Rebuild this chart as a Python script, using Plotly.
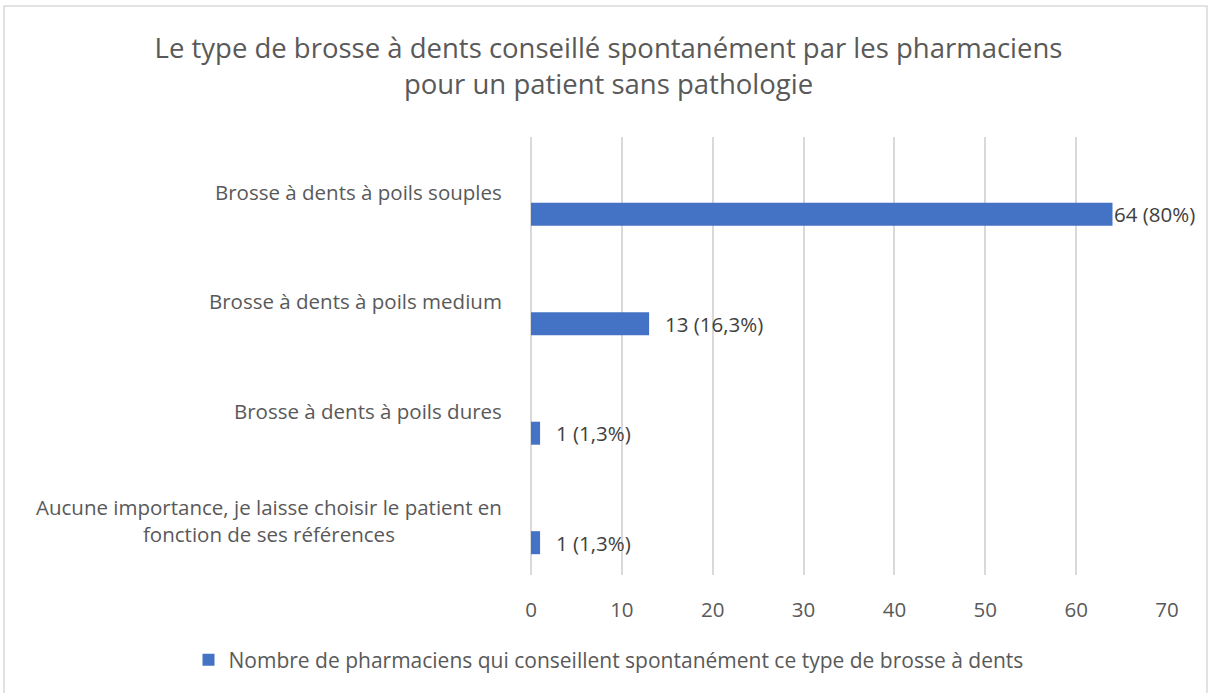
import plotly.graph_objects as go

categories = [
    "Brosse à dents à poils souples",
    "Brosse à dents à poils medium",
    "Brosse à dents à poils dures",
    "Aucune importance, je laisse choisir le patient en<br>fonction de ses références",
]
values = [64, 13, 1, 1]
labels = ["64 (80%)", "13 (16,3%)", "1 (1,3%)", "1 (1,3%)"]
series_name = "Nombre de pharmaciens qui conseillent spontanément ce type de brosse à dents"
title_text = "Le type de brosse à dents conseillé spontanément par les pharmaciens<br>pour un patient sans pathologie"
x_ticks = [0, 10, 20, 30, 40, 50, 60, 70]

FONT = "Open Sans"
GREY = "#595959"
BLUE = "#4472C4"
FS = 20.5
W, H = 1217, 693
L, R, T, B = 531, 50, 137, 118

fig = go.Figure()
fig.add_trace(go.Bar(
    y=list(range(len(categories))), x=values, orientation="h",
    name=series_name, marker=dict(color=BLUE, line=dict(width=0)),
    offset=0.1, width=0.21, showlegend=True, hoverinfo="skip",
))

annotations = []
for i, (c, v, t) in enumerate(zip(categories, values, labels)):
    annotations.append(dict(
        x=0, xref="paper", y=i, yref="y", text=c, showarrow=False,
        xanchor="right", yanchor="middle", align="center", xshift=-27,
        font=dict(family=FONT, size=FS, color=GREY),
    ))
    annotations.append(dict(
        x=v, xref="x", y=i + 0.205, yref="y", text=t, showarrow=False,
        xanchor="left", yanchor="middle", xshift=0 if v > 60 else 14,
        font=dict(family=FONT, size=FS, color="#404040"),
    ))

pw = W - L - R
ph = H - T - B
fig.update_layout(
    width=W, height=H,
    margin=dict(l=L, r=R, t=T, b=B, pad=0),
    paper_bgcolor="white", plot_bgcolor="white",
    title=dict(text=title_text, x=0.5, xref="container", xanchor="center",
               y=1 - 58 / H, yref="container", yanchor="middle",
               font=dict(family=FONT, size=27.5, color=GREY)),
    xaxis=dict(range=[0, 70], tickvals=x_ticks, showgrid=True, gridcolor="#d9d9d9",
               gridwidth=1.5, zeroline=True, zerolinecolor="#d9d9d9", zerolinewidth=1.5,
               showline=False, ticks="", ticklabelstandoff=20,
               tickfont=dict(family=FONT, size=FS, color=GREY)),
    yaxis=dict(range=[3.5, -0.5], showticklabels=False, showgrid=False, zeroline=False,
               showline=False, ticks=""),
    legend=dict(orientation="h", xref="container", x=0.5, xanchor="center",
                yref="container", y=1 - 660 / H, yanchor="middle",
                font=dict(family=FONT, size=21, color=GREY), itemwidth=30),
    annotations=annotations,
    shapes=[dict(type="rect", xref="paper", yref="paper",
                 x0=(4 - L) / pw, x1=(1207 - L) / pw,
                 y0=(H - B - 700) / ph, y1=(H - B - 6) / ph,
                 line=dict(color="#d9d9d9", width=1.5), fillcolor="rgba(0,0,0,0)", layer="below")],
)

fig.write_html("out.html", config={"displayModeBar": False},
               post_script="document.body.style.margin='0';")
